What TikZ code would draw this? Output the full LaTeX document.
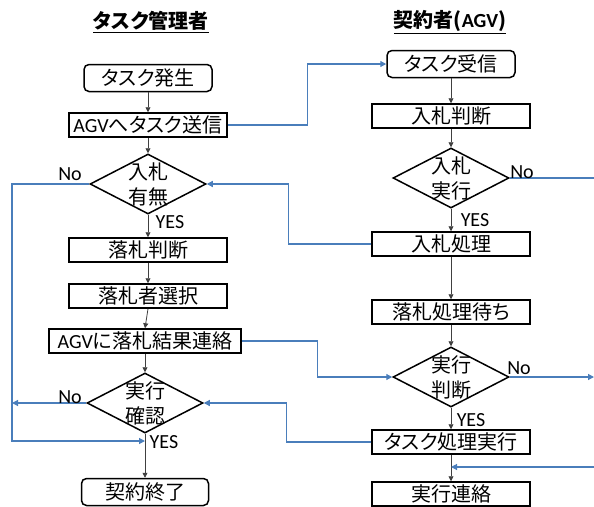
\documentclass[tikz,border=0pt]{standalone}
\usepackage{fontspec}
\setmainfont{Noto Sans CJK JP}[RawFeature=+palt]
\newfontfamily\latinfont{Carlito}
\usetikzlibrary{shapes.geometric,arrows.meta}

\definecolor{linkblue}{RGB}{74,126,187}

\tikzset{
  proc/.style={draw, line width=1.5pt, minimum width=158pt, minimum height=24pt, inner sep=0pt},
  term/.style={proc, rounded corners=5pt, minimum width=128pt, minimum height=27pt},
  decide/.style={draw, diamond, line width=1.5pt, shape aspect=2, inner sep=-6pt,
    minimum width=116pt, minimum height=60pt, align=center, font=\fontsize{20}{25}\selectfont},
  flow/.style={draw=black!75, line width=0.8pt, -{Triangle[length=5pt,width=5pt]}},
  link/.style={draw=linkblue, line width=1.2pt},
  linkarrow/.style={link, -{Triangle[length=6pt,width=6pt]}},
  lab/.style={font=\latinfont\fontsize{20}{20}\selectfont, inner sep=0pt},
  heading/.style={font=\bfseries\fontsize{20}{20}\selectfont, inner sep=0pt}
}

\begin{document}
\begin{tikzpicture}[x=1pt, y=-1pt, font=\fontsize{20}{20}\selectfont]

\useasboundingbox (0,0) rectangle (594,506);

% headings
\node[heading] (mgr) at (151,22) {\underline{タスク管理者}};
\node[heading] (agv) at (450,22) {\underline{契約者({\latinfont AGV})}};

% task manager side
\node[term] (hassei) at (148,78) {タスク発生};
\node[proc] (soushin) at (148,125) {{\latinfont AGV}へタスク送信};
\node[decide] (umu) at (148,184) {入札\\有無};
\node[proc] (hantei) at (148,250) {落札判断};
\node[proc] (sentaku) at (148,296) {落札者選択};
\node[proc, minimum width=192pt] (kekka) at (145,341) {{\latinfont AGV}に落札結果連絡};
\node[decide] (kakunin) at (145,403) {実行\\確認};
\node[term, minimum width=127pt] (shuryo) at (145,492) {契約終了};

% contractor side
\node[term] (jushin) at (451,64) {タスク受信};
\node[proc] (nyusatsu) at (451,116) {入札判断};
\node[decide] (jikko) at (451,178) {入札\\実行};
\node[proc] (shori) at (451,244) {入札処理};
\node[proc] (machi) at (451,312) {落札処理待ち};
\node[decide] (handan) at (451,377) {実行\\判断};
\node[proc] (shikko) at (451,442) {タスク処理実行};
\node[proc] (tsuuchi) at (451,494) {実行連絡};

% free ends
\coordinate (railL) at (12,441);
\coordinate (endL) at (12,403);
\coordinate (joinL) at (145,441);
\coordinate (edgeA) at (594,178);
\coordinate (edgeB) at (594,377);
\coordinate (edgeC) at (594,467);
\coordinate (joinR) at (451,467);

% main flow
\draw[flow] (hassei) -- (soushin);
\draw[flow] (soushin) -- (umu);
\draw[flow] (umu) -- (hantei);
\draw[flow] (hantei) -- (sentaku);
\draw[flow] (sentaku.south) -- (kekka.north);
\draw[flow] (kekka) -- (kakunin);
\draw[flow] (kakunin) -- (shuryo);
\draw[flow] (jushin) -- (nyusatsu);
\draw[flow] (nyusatsu) -- (jikko);
\draw[flow] (jikko) -- (shori);
\draw[flow] (shori) -- (machi);
\draw[flow] (machi) -- (handan);
\draw[flow] (handan) -- (shikko);
\draw[flow] (shikko) -- (tsuuchi);

% messages between the two sides
\draw[linkarrow] (soushin.east) -- ++(80,0) |- (jushin.west);
\draw[linkarrow] (shori.west) -- ++(-83,0) |- (umu.east);
\draw[link] (jikko.east) -- (edgeA);
\draw[linkarrow] (umu.west) -| (railL) -- (joinL);
\draw[linkarrow] (kakunin.west) -- (endL);
\draw[linkarrow] (kekka.east) -- ++(76,0) |- (handan.west);
\draw[linkarrow] (shikko.west) -- ++(-85,0) |- (kakunin.east);
\draw[linkarrow] (handan.east) -- (edgeB);
\draw[linkarrow] (edgeC) -- (joinR);

% branch labels
\node[lab] (noA) at (70,174) {No};
\node[lab] (yesA) at (170,222) {YES};
\node[lab] (noB) at (522,172) {No};
\node[lab] (yesB) at (475,220) {YES};
\node[lab] (noC) at (519,368) {No};
\node[lab] (yesC) at (471,420) {YES};
\node[lab] (noD) at (70,397) {No};
\node[lab] (yesD) at (164,442) {YES};

\end{tikzpicture}
\end{document}
